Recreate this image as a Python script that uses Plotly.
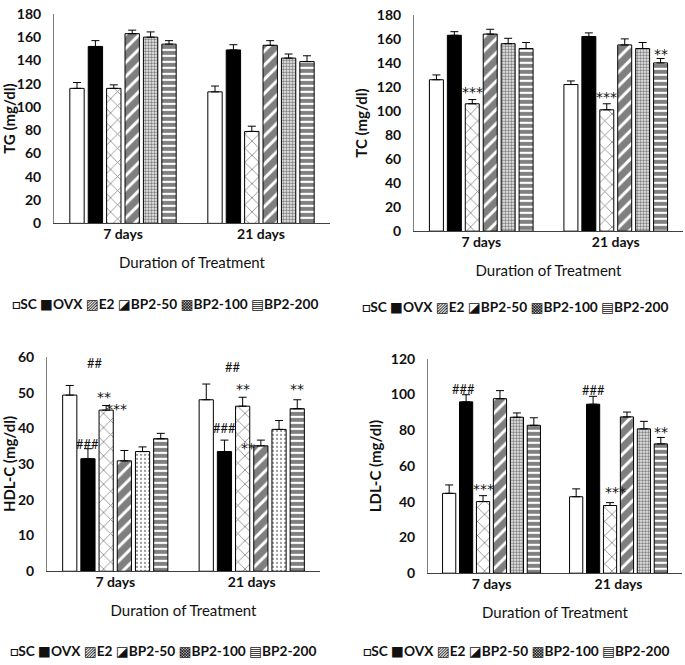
import plotly.graph_objects as go

groups = ["SC", "OVX", "E2", "BP2-50", "BP2-100", "BP2-200"]
days = ["7 days", "21 days"]

# mean and SEM per group: [7 days, 21 days]
tg_mean = [[116, 113], [152, 149], [116, 79], [163, 153], [160, 142], [154, 139]]
tg_err = [[5, 5], [5, 4.5], [3, 4.5], [3, 4], [4.5, 3.5], [3, 5]]
tc_mean = [[126, 122], [163, 162], [106, 101], [164, 155], [156, 152], [152, 140]]
tc_err = [[4, 3], [3, 3], [3.5, 5], [4, 5], [4.5, 5], [5, 3.7]]
hdl_mean = [[49.3, 48], [31.5, 33.5], [45.1, 46.2], [30.9, 35.1], [33.5, 39.7], [37.1, 45.5]]
hdl_err = [[2.7, 4.4], [2.8, 3.2], [1.3, 2.5], [2.9, 1.6], [1.3, 2.5], [1.5, 2.5]]
ldl_mean = [[44.7, 42.8], [95.9, 94.6], [40.1, 37.9], [97.7, 87.5], [87.3, 80.8], [82.8, 72.4]]
ldl_err = [[4.7, 4.4], [4, 4.4], [3.3, 1.6], [4.5, 2.7], [2.4, 4.2], [4.2, 3.6]]

# significance labels: (day index, bar index, value, label)
tg_sig = []
tc_sig = [(0, 2, 116, "***"), (1, 2, 112, "***"), (1, 5, 147.6, "**")]
hdl_sig = [(0, 1.4, 58.2, "##"), (0, 1, 35.7, "###"), (0, 1.9, 48.7, "**"), (0, 2.55, 45.5, "***"),
           (1, 1.45, 57.3, "##"), (1, 1, 40.2, "###"), (1, 2, 51, "**"), (1, 2.3, 34.6, "**"),
           (1, 5, 51, "**")]
ldl_sig = [(0, 0.56, 122.2, "###"), (0, 0.85, 103.1, "###"), (0, 2, 47.2, "***"),
           (1, 1, 122.2, "###"), (1, 1, 102.8, "###"), (1, 2.3, 45.4, "***"), (1, 5, 79.2, "**")]

W, H = 685, 665
FONT = "Lato, 'DejaVu Sans', sans-serif"
INK = "#111111"
BARGAP = 0.2
BARGROUPGAP = 0.22


def pattern(name, sparse_dots=False):
    if name == "E2":
        return dict(shape="x", fgcolor="black", bgcolor="white", size=10, solidity=0.15)
    if name == "BP2-50":
        return dict(shape="/", fgcolor="black", bgcolor="white", size=10, solidity=0.7)
    if name == "BP2-100":
        if sparse_dots:
            return dict(shape=".", fgcolor="black", bgcolor="white", size=4, solidity=0.2)
        return dict(shape=".", fgcolor="black", bgcolor="white", size=3, solidity=0.6)
    if name == "BP2-200":
        return dict(shape="-", fgcolor="black", bgcolor="white", size=6, solidity=0.65)
    return dict(shape="")


panels = [
    dict(mean=tg_mean, err=tg_err, sig=tg_sig, title="TG (mg/dl)", rng=[0, 180], dtick=20,
         xd=[54, 330], yd=[220, 5], dots=False, leg=(165, 302)),
    dict(mean=tc_mean, err=tc_err, sig=tc_sig, title="TC (mg/dl)", rng=[0, 180], dtick=20,
         xd=[414, 683], yd=[228, 6], dots=False, leg=(515, 305)),
    dict(mean=hdl_mean, err=hdl_err, sig=hdl_sig, title="HDL-C (mg/dl)", rng=[0, 60], dtick=10,
         xd=[47, 320], yd=[577, 357], dots=True, leg=(163, 658)),
    dict(mean=ldl_mean, err=ldl_err, sig=ldl_sig, title="LDL-C (mg/dl)", rng=[0, 120], dtick=20,
         xd=[428, 682], yd=[579, 359], dots=False, leg=(516, 658)),
]

legend_glyphs = ["□", "■", "▨", "◪", "▩", "▤"]

fig = go.Figure()
annotations = []
layout = {}

for p, panel in enumerate(panels):
    sfx = "" if p == 0 else str(p + 1)
    for i, g in enumerate(groups):
        fig.add_trace(go.Bar(
            x=days, y=panel["mean"][i], name=g,
            xaxis="x" + sfx, yaxis="y" + sfx,
            marker=dict(color="black" if g == "OVX" else "white",
                        line=dict(color="black", width=1),
                        pattern=pattern(g, panel["dots"])),
            error_y=dict(type="data", symmetric=False, array=panel["err"][i],
                         arrayminus=[0] * len(days), color="black", thickness=1, width=4),
            showlegend=False,
        ))
    layout["xaxis" + sfx] = dict(
        domain=[panel["xd"][0] / W, panel["xd"][1] / W], anchor="y" + sfx, type="category",
        showline=True, linecolor="#404040", linewidth=1, ticks="", showgrid=False,
        ticklabelstandoff=-2, tickfont=dict(size=14, color=INK, weight="bold"),
        title=dict(text="Duration of Treatment", font=dict(size=15, color=INK), standoff=16),
    )
    layout["yaxis" + sfx] = dict(
        domain=[1 - panel["yd"][0] / H, 1 - panel["yd"][1] / H], anchor="x" + sfx,
        range=panel["rng"], dtick=panel["dtick"],
        showline=True, linecolor="#7f7f7f", linewidth=1, ticks="", showgrid=False, zeroline=False,
        ticklabelstandoff=9, tickfont=dict(size=14, color=INK, weight="bold"),
        title=dict(text=panel["title"], font=dict(size=15, color=INK, weight="bold"), standoff=5),
    )
    slot = (1 - BARGAP) / len(groups)
    for day_i, bar_i, val, label in panel["sig"]:
        annotations.append(dict(
            x=day_i - (1 - BARGAP) / 2 + slot * (bar_i + 0.5), y=val,
            xref="x" + sfx, yref="y" + sfx, text=label, showarrow=False,
            font=dict(size=14 if "*" in label else 13,
                      family="'DejaVu Sans'" if "*" in label else FONT, color=INK),
            yanchor="middle",
        ))
    legend_text = " ".join(gl + g for gl, g in zip(legend_glyphs, groups))
    annotations.append(dict(
        x=panel["leg"][0] / W, y=1 - panel["leg"][1] / H, xref="paper", yref="paper",
        text=legend_text, showarrow=False, font=dict(size=13.7, color=INK, weight="bold"),
        xanchor="center", yanchor="middle",
    ))

fig.update_layout(
    width=W, height=H,
    margin=dict(l=0, r=0, t=0, b=0),
    paper_bgcolor="white", plot_bgcolor="white",
    font=dict(family=FONT, color=INK),
    barmode="group", bargap=BARGAP, bargroupgap=BARGROUPGAP,
    annotations=annotations,
    **layout,
)

# the page body has an 8px default margin; drop it so the figure fills the window
fig.write_html("out.html", config={"displayModeBar": False},
               post_script="document.body.style.margin = '0';")
